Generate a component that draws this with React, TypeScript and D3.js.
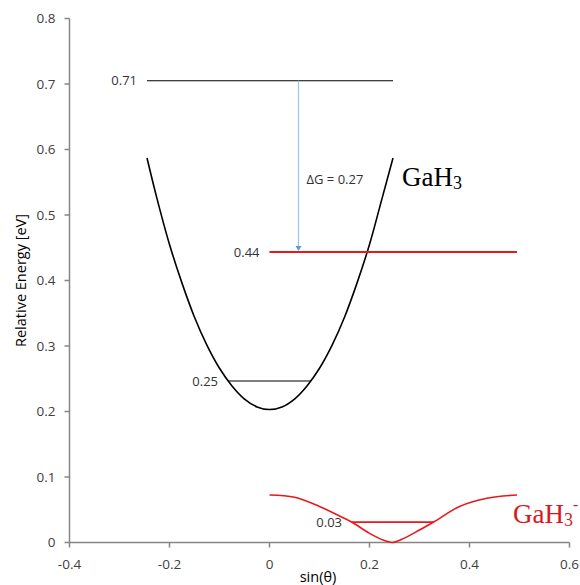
import React from 'react';
import * as d3 from 'd3';

// axis ticks
const xTicks = [-0.4, -0.2, 0, 0.2, 0.4, 0.6];
const xTickLabels = ['-0.4', '-0.2', '0', '0.2', '0.4', '0.6'];
const yTicks = [0, 0.1, 0.2, 0.3, 0.4, 0.5, 0.6, 0.7, 0.8];
const yTickLabels = ['0', '0.1', '0.2', '0.3', '0.4', '0.5', '0.6', '0.7', '0.8'];

// GaH3 (neutral) curve
const neutralX = [-0.245, -0.225, -0.2, -0.175, -0.15, -0.125, -0.1, -0.075, -0.05, -0.025, 0,
  0.025, 0.05, 0.075, 0.1, 0.125, 0.15, 0.175, 0.2, 0.225, 0.247];
const neutralE = [0.587, 0.525, 0.455, 0.396, 0.344, 0.301, 0.266, 0.239, 0.219, 0.207, 0.203,
  0.207, 0.219, 0.239, 0.266, 0.301, 0.344, 0.396, 0.455, 0.525, 0.587];

// GaH3- (anion) curve
const anionX = [0, 0.05, 0.1, 0.14, 0.165, 0.2, 0.23, 0.245, 0.265, 0.3, 0.33, 0.38, 0.435, 0.495];
const anionE = [0.0725, 0.069, 0.055, 0.0405, 0.031, 0.014, 0.003, 0.0, 0.005, 0.019, 0.032, 0.055, 0.0675, 0.0725];

// energy levels
const levelLabels = ['0.71', '0.44', '0.25', '0.03'];
const levelEnergy = [0.705, 0.4435, 0.2466, 0.031];
const levelStart = [-0.245, 0, -0.083, 0.165];
const levelEnd = [0.247, 0.495, 0.083, 0.328];
const levelSeries = ['neutral', 'anion', 'neutral', 'anion'];

// arrow for the free energy difference
const arrowX = 0.058;
const arrowFrom = 0.705;
const arrowTo = 0.4435;
const arrowLabel = 'ΔG = 0.27';

const W = 580;
const H = 585;
const BLACK = '#000000';
const RED = '#e8191c';
const AXIS = '#868686';
const TEXT = '#404040';
const FONT = '"Open Sans", "Noto Sans", sans-serif';

export default function App() {
  const x = d3.scaleLinear().domain([-0.4, 0.6]).range([69.5, 569.5]);
  const y = d3.scaleLinear().domain([0, 0.8]).range([542.5, 18.5]);

  const curve = d3.line<[number, number]>()
    .x(d => x(d[0])).y(d => y(d[1]))
    .curve(d3.curveCatmullRom.alpha(0.5));
  const neutralPath = curve(neutralX.map((v, i) => [v, neutralE[i]]));
  const anionPath = curve(anionX.map((v, i) => [v, anionE[i]]));

  const ax = x(arrowX);
  const ay1 = y(arrowFrom);
  const ay2 = y(arrowTo);

  return (
    <svg width={W} height={H} style={{ position: 'absolute', left: 0, top: 0, background: '#fff' }}
      fontFamily={FONT}>
      {/* axes */}
      <line x1={x(-0.4)} x2={x(-0.4)} y1={y(0.8)} y2={y(0)} stroke={AXIS} strokeWidth={1.5} />
      <line x1={x(-0.4)} x2={x(0.6)} y1={y(0)} y2={y(0)} stroke={AXIS} strokeWidth={1.5} />
      {yTicks.map((t, i) => (
        <g key={'y' + t}>
          <line x1={x(-0.4) - 5} x2={x(-0.4)} y1={y(t)} y2={y(t)} stroke={AXIS} strokeWidth={1.5} />
          <text x={x(-0.4) - 14} y={y(t)} dy="0.36em" textAnchor="end" fontSize={13.5} fill={TEXT}>
            {yTickLabels[i]}
          </text>
        </g>
      ))}
      {xTicks.map((t, i) => (
        <g key={'x' + t}>
          <line x1={x(t)} x2={x(t)} y1={y(0)} y2={y(0) + 5} stroke={AXIS} strokeWidth={1.5} />
          <text x={x(t)} y={y(0) + 26} textAnchor="middle" fontSize={13.5} fill={TEXT}>
            {xTickLabels[i]}
          </text>
        </g>
      ))}
      <text transform={`translate(26,${(y(0) + y(0.8)) / 2}) rotate(-90)`} textAnchor="middle"
        fontSize={14.5} fill={BLACK}>Relative Energy [eV]</text>
      <text x={318} y={582} textAnchor="middle" fontSize={14.5} fill={BLACK}>sin(θ)</text>

      {/* curves */}
      <path d={neutralPath ?? ''} fill="none" stroke={BLACK} strokeWidth={1.6} />
      <path d={anionPath ?? ''} fill="none" stroke={RED} strokeWidth={1.6} />

      {/* levels */}
      {levelLabels.map((lab, i) => {
        const col = levelSeries[i] === 'anion' ? RED : BLACK;
        return (
          <g key={lab}>
            <line x1={x(levelStart[i])} x2={x(levelEnd[i])} y1={y(levelEnergy[i])} y2={y(levelEnergy[i])}
              stroke={col} strokeWidth={levelSeries[i] === 'anion' ? 1.8 : 1.1} />
            <text x={x(levelStart[i]) - 10} y={y(levelEnergy[i])} dy="0.36em" textAnchor="end"
              fontSize={13} fill="#333">{lab}</text>
          </g>
        );
      })}

      {/* delta G arrow */}
      <line x1={ax} x2={ax} y1={ay1} y2={ay2 - 5} stroke="#9dc3e6" strokeWidth={1.2} />
      <path d={`M${ax - 3},${ay2 - 6} L${ax + 3},${ay2 - 6} L${ax},${ay2 - 1} Z`} fill="#5b9bd5" />
      <text x={ax + 8} y={184} fontSize={13} fill="#333">{arrowLabel}</text>

      {/* series labels */}
      <text x={402} y={186} fontFamily='"Liberation Serif", serif' fontSize={27} fill={BLACK}>
        GaH<tspan fontSize={18} dy={3}>3</tspan>
      </text>
      <text x={513} y={523} fontFamily='"Liberation Serif", serif' fontSize={27} fill="#d9181c">
        GaH<tspan fontSize={18} dy={3}>3</tspan><tspan fontSize={16} dy={-16}>-</tspan>
      </text>
    </svg>
  );
}
